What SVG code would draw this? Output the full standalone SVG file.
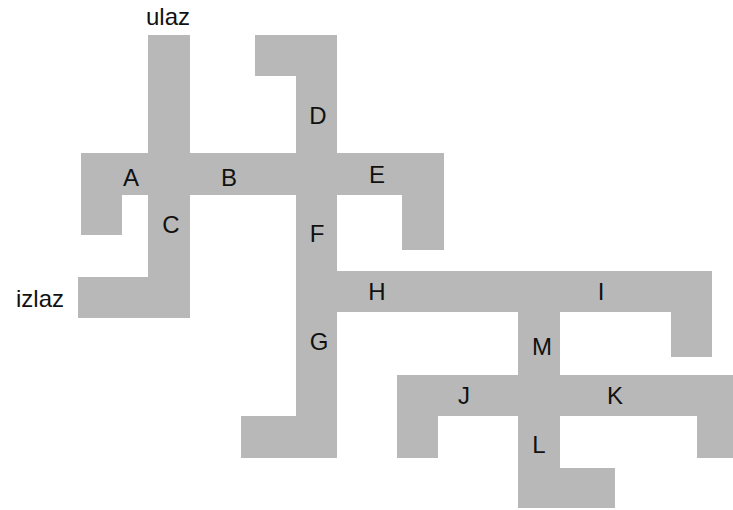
<svg xmlns="http://www.w3.org/2000/svg" width="733" height="510" viewBox="0 0 733 510">
<style>
.c{fill:#b8b8b8;stroke:none}
.t{font-family:"Liberation Sans",Arial,sans-serif;font-size:24px;fill:#111;text-anchor:middle}
</style>
<rect width="733" height="510" fill="#fff"/>
<g id="maze">
<g id="ulaz"><rect class="c" x="148" y="35" width="42" height="120"/><text class="t" x="168" y="25">ulaz</text></g>
<g id="A"><rect class="c" x="81" y="153" width="69" height="42"/><rect class="c" x="81" y="193" width="41" height="42"/><text class="t" x="131" y="186">A</text></g>
<g id="B"><rect class="c" x="188" y="153" width="110" height="42"/><text class="t" x="229" y="186">B</text></g>
<g id="C"><rect class="c" x="148" y="153" width="42" height="165"/><rect class="c" x="78" y="277" width="72" height="41"/><text class="t" x="171" y="233">C</text></g>
<g id="izlaz"><text class="t" x="40" y="307">izlaz</text></g>
<g id="D"><rect class="c" x="296" y="35" width="41" height="120"/><rect class="c" x="255" y="35" width="43" height="41"/><text class="t" x="318" y="124">D</text></g>
<g id="E"><rect class="c" x="335" y="153" width="109" height="42"/><rect class="c" x="402" y="193" width="42" height="57"/><text class="t" x="377" y="183">E</text></g>
<g id="F"><rect class="c" x="296" y="153" width="41" height="120"/><text class="t" x="317" y="242">F</text></g>
<g id="G"><rect class="c" x="296" y="271" width="41" height="187"/><rect class="c" x="241" y="416" width="57" height="42"/><text class="t" x="319" y="350">G</text></g>
<g id="H"><rect class="c" x="335" y="271" width="185" height="41"/><text class="t" x="377" y="300">H</text></g>
<g id="I"><rect class="c" x="518" y="271" width="194" height="41"/><rect class="c" x="671" y="310" width="41" height="47"/><text class="t" x="601" y="300">I</text></g>
<g id="M"><rect class="c" x="518" y="310" width="42" height="67"/><text class="t" x="542" y="355">M</text></g>
<g id="J"><rect class="c" x="397" y="375" width="123" height="41"/><rect class="c" x="397" y="414" width="41" height="44"/><text class="t" x="464" y="404">J</text></g>
<g id="K"><rect class="c" x="558" y="375" width="175" height="41"/><rect class="c" x="697" y="414" width="36" height="44"/><text class="t" x="615" y="404">K</text></g>
<g id="L"><rect class="c" x="518" y="375" width="42" height="133"/><rect class="c" x="558" y="468" width="57" height="40"/><text class="t" x="539" y="453">L</text></g>
</g>
<g id="connectors"></g>
</svg>
